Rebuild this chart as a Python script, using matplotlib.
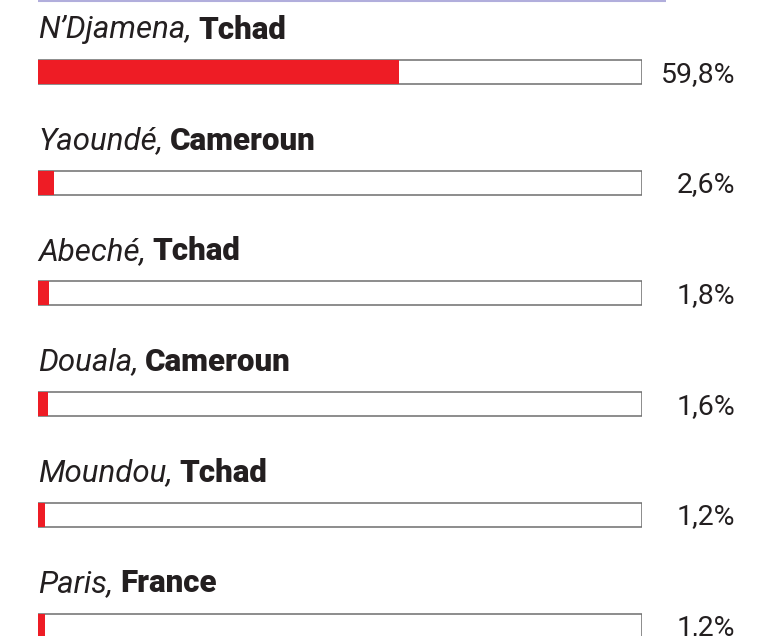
import matplotlib
matplotlib.use("Agg")
import matplotlib.pyplot as plt
from matplotlib import font_manager as fm

cities = ["N\u2019Djamena", "Yaoundé", "Abeché", "Douala", "Moundou", "Paris"]
countries = ["Tchad", "Cameroun", "Tchad", "Cameroun", "Tchad", "France"]
values = [59.8, 2.6, 1.8, 1.6, 1.2, 1.2]
value_labels = ["59,8%", "2,6%", "1,8%", "1,6%", "1,2%", "1,2%"]

fam = "Roboto"

W, H = 769, 636
fig = plt.figure(figsize=(W / 100, H / 100), dpi=100)
left_px, width_px = 38, 604
row_px, first_px = 110.7, 72
ax = fig.add_axes([left_px / W, 0, width_px / W, 1])
ax.set_xlim(0, 100)
ax.set_ylim((H - first_px) / row_px, -first_px / row_px)
ax.axis("off")

red = "#ee1c25"
bh = 24 / row_px
ys = list(range(len(values)))
ax.barh(ys, [100] * len(values), height=bh, color="white", edgecolor="#6e6e6e", linewidth=1.1, zorder=1)
ax.barh(ys, values, height=bh, color=red, edgecolor="none", zorder=2)

# top rule
ax.plot([0, (666 - left_px) / width_px * 100], [-first_px / row_px + 0.5 / row_px] * 2,
        color="#b1aedc", lw=1.5, clip_on=False, solid_capstyle="butt")

fig.canvas.draw()
renderer = fig.canvas.get_renderer()
lab_off = -42 / row_px
for i, (c, k, v) in enumerate(zip(cities, countries, value_labels)):
    t = ax.text(0, i + lab_off, c + ",", fontfamily=fam, fontstyle="italic", fontsize=22.5,
                color="#231f20", va="center", ha="left")
    bb = t.get_window_extent(renderer=renderer)
    x2 = ax.transData.inverted().transform((bb.x1 + 7, 0))[0]
    ax.text(x2, i + lab_off, k, fontfamily=fam, fontweight=900, fontsize=22.5,
            color="#231f20", va="center", ha="left")
    ax.text((735 - left_px) / width_px * 100, i + 0.02, v, fontfamily=fam, fontsize=20.5,
            color="#231f20", va="center", ha="right", clip_on=False)

fig.savefig("out.png", dpi=100)
